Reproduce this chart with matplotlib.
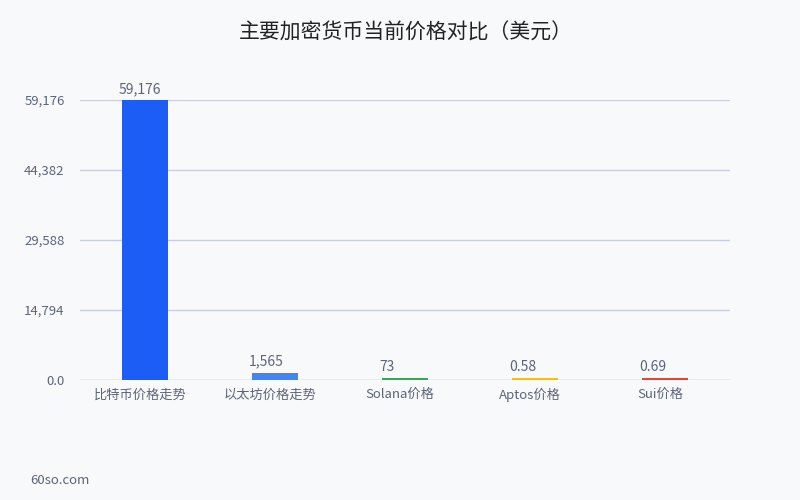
import matplotlib
matplotlib.use("Agg")
import matplotlib.pyplot as plt
import matplotlib.transforms as mtransforms
from matplotlib.ticker import FixedLocator, FixedFormatter

plt.rcParams['font.family'] = ['Noto Sans CJK SC', 'DejaVu Sans']

categories = ["比特币价格走势", "以太坊价格走势", "Solana价格", "Aptos价格", "Sui价格"]
values = [59176, 1565, 73, 0.58, 0.69]
value_labels = ["59,176", "1,565", "73", "0.58", "0.69"]
colors = ["#1c5ef5", "#4285f4", "#34a853", "#fbbc04", "#ea4335"]
tick_values = [0, 14794, 29588, 44382, 59176]
tick_labels = ["0.0", "14,794", "29,588", "44,382", "59,176"]

bg = "#f8f9fb"
fig = plt.figure(figsize=(8, 5), dpi=100, facecolor=bg)
ax = fig.add_axes([0.1, 0.24, 0.8125, 0.56], facecolor=bg)

bw = 0.355
x = list(range(len(categories)))
vmax = max(values)
min_h = vmax * 0.0065
heights = [max(v, min_h) for v in values]
ax.bar(x, heights, width=bw, color=colors, zorder=3)

lab_off = mtransforms.offset_copy(ax.transData, fig=fig, x=-3, y=4, units='dots')
for xi, h, lab in zip(x, heights, value_labels):
    ax.text(xi - bw / 2, h, lab, ha='left', va='bottom', fontsize=10,
            color='#5c6478', transform=lab_off)

ax.set_xlim(-0.5, len(categories) - 0.5)
ax.set_ylim(0, vmax)
ax.yaxis.set_major_locator(FixedLocator(tick_values))
ax.yaxis.set_major_formatter(FixedFormatter(tick_labels))
ax.grid(axis='y', color='#c9cfdf', linewidth=1, zorder=0)
ax.set_xticks(x)
ax.set_xticklabels(categories)
for s in ax.spines.values():
    s.set_visible(False)
ax.tick_params(axis='both', length=0, labelsize=9.5, colors='#5c6478')
ax.tick_params(axis='y', pad=11)
ax.tick_params(axis='x', pad=6)
shift = mtransforms.ScaledTranslation(-5 / 100, 0, fig.dpi_scale_trans)
for t in ax.get_xticklabels():
    t.set_transform(t.get_transform() + shift)
ax.axhline(0, color='#c9cfdf', linewidth=1, zorder=2)

fig.text(0.5075, 0.935, "主要加密货币当前价格对比（美元）", ha='center', va='center', fontsize=15, color='#222222')
fig.text(0.0375, 0.04, "60so.com", ha='left', va='center', fontsize=9.5, color='#5c6478')

fig.savefig("out.png", dpi=100, facecolor=bg)
